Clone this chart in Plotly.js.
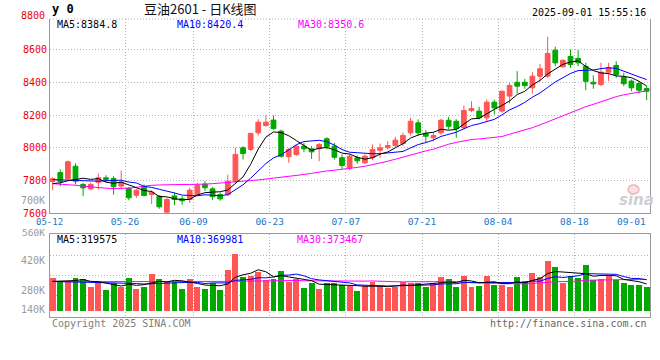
<!DOCTYPE html>
<html><head><meta charset="utf-8">
<script src="https://cdn.plot.ly/plotly-3.0.1.min.js"></script>
<style>html,body{margin:0;padding:0;background:#fff;}#chart{width:660px;height:360px;}</style>
</head><body><div id="chart"></div>
<script>
const dates = ['2025-05-12','2025-05-13','2025-05-14','2025-05-15','2025-05-16','2025-05-19','2025-05-20','2025-05-21','2025-05-22','2025-05-23',
'2025-05-26','2025-05-27','2025-05-28','2025-05-29','2025-05-30','2025-06-03','2025-06-04','2025-06-05','2025-06-06',
'2025-06-09','2025-06-10','2025-06-11','2025-06-12','2025-06-13','2025-06-16','2025-06-17','2025-06-18','2025-06-19','2025-06-20',
'2025-06-23','2025-06-24','2025-06-25','2025-06-26','2025-06-27','2025-06-30','2025-07-01','2025-07-02','2025-07-03','2025-07-04',
'2025-07-07','2025-07-08','2025-07-09','2025-07-10','2025-07-11','2025-07-14','2025-07-15','2025-07-16','2025-07-17','2025-07-18',
'2025-07-21','2025-07-22','2025-07-23','2025-07-24','2025-07-25','2025-07-28','2025-07-29','2025-07-30','2025-07-31','2025-08-01',
'2025-08-04','2025-08-05','2025-08-06','2025-08-07','2025-08-08','2025-08-11','2025-08-12','2025-08-13','2025-08-14','2025-08-15',
'2025-08-18','2025-08-19','2025-08-20','2025-08-21','2025-08-22','2025-08-25','2025-08-26','2025-08-27','2025-08-28','2025-08-29'];

const open = [7793,7848,7810,7887,7775,7748,7789,7816,7812,7765,
7752,7709,7758,7713,7703,7605,7705,7687,7683,
7713,7777,7748,7713,7713,7795,8000,7990,8092,8137,
8170,8102,7945,7959,8010,7994,7994,8055,8010,7939,
7876,7939,7908,7939,7985,8000,8014,8026,8092,8153,
8088,8061,8092,8169,8163,8123,8229,8225,8184,8280,
8225,8317,8402,8402,8368,8439,8439,8599,8497,8560,
8548,8500,8402,8388,8464,8505,8433,8409,8394,8364];
const high = [7818,7867,7922,7905,7785,7787,7842,7832,7826,7860,
7760,7748,7775,7740,7710,7693,7725,7703,7755,
7785,7795,7760,7725,7835,8000,8010,8092,8175,8200,
8198,8112,8000,8020,8030,8010,8030,8065,8030,7959,
7960,7953,7960,8020,8026,8040,8067,8092,8184,8174,
8108,8092,8178,8190,8175,8260,8286,8252,8296,8296,
8350,8399,8470,8423,8464,8515,8681,8620,8545,8603,
8599,8521,8444,8521,8521,8531,8460,8419,8409,8378];
const low = [7740,7764,7805,7774,7703,7740,7744,7789,7713,7750,
7678,7693,7703,7655,7626,7600,7650,7650,7662,
7705,7735,7680,7675,7703,7785,7928,7980,8075,8130,
8110,7939,7908,7950,7973,7932,7918,7990,7928,7871,
7862,7902,7900,7924,7939,7990,8005,8010,8075,8075,
8031,8040,8080,8112,8061,8112,8218,8174,8163,8204,
8215,8272,8333,8362,8333,8409,8430,8500,8490,8490,
8500,8353,8362,8378,8409,8430,8377,8347,8333,8292];
const close = [7810,7793,7914,7795,7754,7775,7816,7806,7761,7790,
7693,7740,7707,7728,7638,7683,7683,7675,7740,
7770,7755,7700,7687,7795,7959,7965,8088,8157,8157,
8118,7948,7990,8010,7994,7975,8020,8008,7942,7891,
7948,7920,7948,7990,8000,8014,8047,8075,8163,8092,
8071,8075,8169,8132,8117,8229,8241,8184,8280,8245,
8347,8382,8378,8382,8439,8485,8579,8521,8536,8511,
8521,8408,8392,8464,8491,8450,8393,8368,8353,8347];

const ma5 = [7780,7785,7798,7805,7813.2,7806.2,7810.8,7789.2,7782.4,7789.6,
7773.2,7758,7738.2,7731.6,7701.2,7699.2,7687.8,7681.4,7683.8,
7710.2,7724.6,7728,7730.4,7741.4,7779.2,7821.2,7898.8,7992.8,8065.2,
8097,8093.6,8074,8044.6,8012,7983.4,7997.8,8001.4,7987.8,7967.2,
7961.8,7941.8,7929.8,7939.4,7961.2,7974.4,7999.8,8025.2,8059.8,8078.2,
8089.6,8095.2,8114,8107.8,8112.8,8144.4,8177.6,8180.6,8210.2,8235.8,
8259.4,8287.6,8326.4,8346.8,8385.6,8413.2,8452.6,8481.2,8512,8526.4,
8533.6,8499.4,8473.6,8459.2,8455.2,8441,8438,8430,8407.8,8379];
const ma10 = [7805,7803,7803,7802,7800,7797,7795,7798,7800,7801.4,
7789.7,7784.4,7763.7,7757,7745.4,7736.2,7722.9,7709.8,7707.7,
7705.7,7711.9,7707.9,7705.9,7712.6,7744.7,7772.9,7813.4,7861.6,7903.3,
7938.1,7957.4,7986.4,8018.7,8038.6,8040.2,8045.7,8037.7,8016.2,7989.6,
7972.6,7969.8,7965.6,7963.6,7964.2,7968.1,7970.8,7977.5,7999.6,8019.7,
8032,8047.5,8069.6,8083.8,8095.5,8117,8136.4,8147.3,8159,8174.3,
8201.9,8232.6,8253.5,8278.5,8310.7,8336.3,8370.1,8403.8,8429.4,8456,
8473.4,8476,8477.4,8485.6,8490.8,8487.3,8468.7,8453.4,8435.1,8418.7];
const ma30 = [7780,7778,7775,7770,7765,7760,7755,7752,7750,7750,
7752,7758,7765,7770,7772,7774,7775,7775,7775,
7775,7777,7780,7783,7787,7791,7795,7799,7803,7808,
7815.1,7819.7,7826.2,7829.4,7836.1,7843.4,7851.6,7858,7862.5,7866.9,
7872.1,7879.7,7886.6,7896.1,7905.1,7917.7,7929.8,7942.9,7959.1,7970.9,
7980.9,7991.6,8007.2,8022,8032.8,8041.8,8051,8054.2,8058.3,8061.2,
8068.8,8083.3,8096.2,8108.6,8123.5,8140.5,8159.1,8176.2,8196,8216.7,
8235.8,8252,8266.8,8282.6,8299,8313.5,8325.1,8334.8,8341.2,8349.7];

const volume = [394000,346000,346000,394000,378000,287000,327000,248000,327000,287000,
394000,260000,287000,437000,378000,355000,355000,260000,378000,
280000,260000,327000,248000,485000,674000,405000,417000,457000,366000,
378000,473000,339000,375000,275000,334000,260000,327000,327000,307000,
299000,236000,296000,339000,296000,268000,280000,346000,327000,327000,
280000,327000,405000,378000,287000,417000,287000,299000,417000,307000,
307000,287000,405000,358000,453000,405000,594000,520000,331000,417000,
390000,547000,370000,378000,417000,370000,331000,307000,307000,284000];
const volMa5 = [350000,352000,355000,360000,371600,350200,346400,326800,313400,295200,
316600,303200,311000,333000,351200,343400,362400,357000,345200,
325600,306600,301000,298600,320000,398800,427800,445800,487600,463800,
404600,418200,402600,386200,368000,359200,316600,314200,304600,311000,
304000,299200,293000,295400,293200,287000,295800,305800,303400,309600,
312000,321400,333200,343400,335400,362800,354800,333600,341400,345400,
323400,323400,344600,332800,362000,381600,443000,466000,460600,453400,
450400,441000,411000,420400,420400,416400,373200,360600,346400,319800];
const volMa10 = [350000,348000,346000,344000,342000,340000,338000,336000,334000,333400,
333400,324800,318900,323200,323200,330000,332800,334000,339100,
338400,325000,331700,327800,332600,362200,367200,373400,393100,391900,
401700,423000,424200,436900,415900,381900,367400,358400,345400,339500,
331600,307900,303600,300000,302100,295500,297500,299400,299400,301400,
299500,308600,319500,323400,322500,337400,338100,333400,342400,340400,
343100,339100,339100,337100,353700,352500,383200,405300,396700,407700,
416000,442000,438500,440500,436900,433400,407100,385800,383400,370100];
const volMa30 = [346000,346000,347000,347000,347000,346000,346000,345000,345000,345000,
345000,346000,346000,347000,347000,347000,346000,345000,345000,
344000,343000,343000,344000,346000,350000,352000,354000,356000,357000,
357800,360500,360200,361200,357200,355800,354900,354900,357500,356800,
357200,352000,353200,354900,350200,346500,344000,343700,346000,344300,
344300,346500,349100,353400,346800,338300,334300,330400,329100,327100,
324700,318500,320700,320200,326100,328500,339600,346000,346200,349800,
352900,363200,365700,367000,371000,374400,376100,374800,374200,372700];

const tickDates = ['05-12','05-26','06-09','06-23','07-07','07-21','08-04','08-18','09-01'];
const priceTicks = [7600,7800,8000,8200,8400,8600,8800];
const volTickLabels = ['700K','560K','420K','280K','140K'];
const maLabels = ['MA5:8384.8','MA10:8420.4','MA30:8350.6'];
const volMaLabels = ['MA5:319575','MA10:369981','MA30:373467'];
const titleText = '豆油2601 - 日K线图';
const stamp = '2025-09-01 15:55:16';

// ---------- build ----------
const idx = dates.map((d, i) => i);
const RED = '#ff5555', GREEN = '#00a800';
const barColors = idx.map(i => close[i] >= open[i] ? RED : GREEN);
const tickPos = tickDates.map(t => {
  const k = dates.findIndex(d => d.slice(5) === t);
  return (k < 0 ? dates.length : k) - 0.5;
});
const xr = [-0.348, 78.44];
const GRID = '#b4b4b4', DASH = '1px,2px', BORDER = '#999999';
const MONO = 'DejaVu Sans Mono, monospace';
const px = x => (x - 50) / 600;
const py = y => (317 - y) / 298;
const dataToPx = v => 50 + (v - xr[0]) / (xr[1] - xr[0]) * 600;

const traces = [
  {type:'candlestick', x:idx, open:open, high:high, low:low, close:close, xaxis:'x', yaxis:'y',
   increasing:{line:{color:RED, width:1}, fillcolor:RED},
   decreasing:{line:{color:GREEN, width:1}, fillcolor:GREEN},
   whiskerwidth:0, hoverinfo:'skip'},
  {type:'scatter', mode:'lines', x:idx, y:ma30, xaxis:'x', yaxis:'y', line:{color:'#ff00ff', width:1}, hoverinfo:'skip'},
  {type:'scatter', mode:'lines', x:idx, y:ma10, xaxis:'x', yaxis:'y', line:{color:'#0000ff', width:1}, hoverinfo:'skip'},
  {type:'scatter', mode:'lines', x:idx, y:ma5, xaxis:'x', yaxis:'y', line:{color:'#000000', width:1}, hoverinfo:'skip'},
  {type:'bar', x:idx, y:volume, xaxis:'x2', yaxis:'y2', width:0.78, marker:{color:barColors, line:{width:0}}, hoverinfo:'skip'},
  {type:'scatter', mode:'lines', x:idx, y:volMa30, xaxis:'x2', yaxis:'y2', line:{color:'#ff00ff', width:1}, hoverinfo:'skip'},
  {type:'scatter', mode:'lines', x:idx, y:volMa10, xaxis:'x2', yaxis:'y2', line:{color:'#0000ff', width:1}, hoverinfo:'skip'},
  {type:'scatter', mode:'lines', x:idx, y:volMa5, xaxis:'x2', yaxis:'y2', line:{color:'#000000', width:1}, hoverinfo:'skip'}
];

function ann(text, x, y, color, anchor, size, extra) {
  return Object.assign({text:text, xref:'paper', yref:'paper', x:px(x), y:py(y), xanchor:anchor || 'left', yanchor:'middle',
    showarrow:false, font:{family:MONO, size:size || 10, color:color}}, extra || {});
}
const XLAB = '#1a78c8';
const annotations = [
  ann('<b>y 0</b>', 50, 9, '#000', 'left', 12),
  ann(titleText, 200, 9, '#111', 'center', 13, {font:{family:'Noto Sans CJK SC', size:13, color:'#111'}}),
  ann(stamp, 648, 12, '#000', 'right', 10),
  ann(String(priceTicks[priceTicks.length - 1]), 47, 15.5, '#ee0000', 'right', 10),
  ann(maLabels[0], 55, 24, '#000000', 'left', 10),
  ann(maLabels[1], 175, 24, '#0000ff', 'left', 10),
  ann(maLabels[2], 296, 24, '#ff00ff', 'left', 10),
  ann(volMaLabels[0], 55, 239, '#000000', 'left', 10),
  ann(volMaLabels[1], 175, 239, '#0000ff', 'left', 10),
  ann(volMaLabels[2], 295, 239, '#ff00ff', 'left', 10),
  ann('Copyright 2025 SINA.COM', 50, 323.5, '#808080', 'left', 10),
  ann('http://finance.sina.com.cn', 649, 323.5, '#666666', 'right', 10),
  ann('<b><i>sina</i></b>', 636, 200, '#cccccc', 'center', 15, {font:{family:'DejaVu Sans', size:15, color:'#cfcfcf'}}),
  ann(tickDates[0], dataToPx(tickPos[0]) + 1, 222.2, XLAB, 'center', 9),
  ann(tickDates[tickDates.length - 1], 648, 221.8, XLAB, 'right', 9.5)
];
const volLabelY = [200.7, 232.3, 260, 290, 309];
const volLabelSize = [10, 9.5, 10, 10, 10];
volTickLabels.forEach((t, k) => annotations.push(ann(t, 47, volLabelY[k], '#9a9a9a', 'right', volLabelSize[k])));

const shapes = [
  {type:'line', xref:'paper', yref:'paper', x0:0, x1:1, y0:1, y1:1, line:{color:GRID, width:1, dash:DASH}},
  {type:'circle', xref:'paper', yref:'paper', x0:px(628), x1:px(639), y0:py(194), y1:py(185),
   line:{color:'#f2b4b4', width:1.5}, fillcolor:'rgba(240,170,170,0.35)'}
];

const midTicks = tickPos.slice(1, -1);
const layout = {
  width:660, height:360, margin:{l:50, r:10, t:19, b:43, pad:0},
  paper_bgcolor:'#ffffff', plot_bgcolor:'#ffffff', showlegend:false, hovermode:false,
  font:{family:MONO, size:10, color:'#000'},
  boxgap:0.38, boxgroupgap:0, bargap:0,
  xaxis:{domain:[0,1], anchor:'y', range:xr, fixedrange:true, rangeslider:{visible:false},
    tickmode:'array', tickvals:midTicks, ticktext:tickDates.slice(1, -1), ticks:'',
    showgrid:true, gridcolor:GRID, griddash:DASH, gridwidth:1, zeroline:false,
    showline:true, linecolor:BORDER, linewidth:1, tickfont:{family:MONO, size:9.5, color:XLAB}},
  yaxis:{domain:[(317-213)/298, 1], anchor:'x', range:[7600, 8790], fixedrange:true,
    tickmode:'array', tickvals:priceTicks.slice(0, -1), ticktext:priceTicks.slice(0, -1).map(String), ticks:'',
    ticklabelshift:-1.5,
    showgrid:true, gridcolor:GRID, griddash:DASH, gridwidth:1, zeroline:false,
    showline:true, mirror:true, linecolor:BORDER, linewidth:1, tickfont:{family:MONO, size:10, color:'#ee0000'}},
  xaxis2:{domain:[0,1], anchor:'y2', range:xr, fixedrange:true,
    tickmode:'array', tickvals:midTicks, showticklabels:false, ticks:'',
    showgrid:true, gridcolor:GRID, griddash:DASH, gridwidth:1, zeroline:false,
    showline:true, mirror:true, linecolor:BORDER, linewidth:1},
  yaxis2:{domain:[0, 83/298], anchor:'x2', range:[-70920, 910140], fixedrange:true,
    tickmode:'array', tickvals:[183000, 419000, 655000], showticklabels:false, ticks:'',
    showgrid:true, gridcolor:GRID, griddash:DASH, gridwidth:1, zeroline:false,
    showline:true, mirror:true, linecolor:BORDER, linewidth:1},
  annotations:annotations, shapes:shapes
};
Plotly.newPlot('chart', traces, layout, {staticPlot:true, displayModeBar:false});
</script></body></html>
